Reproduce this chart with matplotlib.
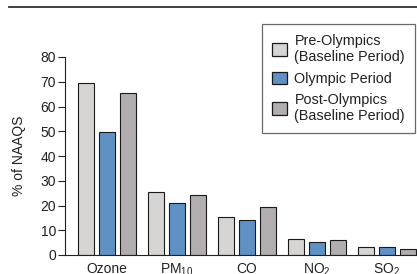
import numpy as np
import matplotlib
matplotlib.use("Agg")
import matplotlib.pyplot as plt
from matplotlib.patches import Patch
from matplotlib.lines import Line2D

plt.rcParams['font.family'] = ['Liberation Sans', 'DejaVu Sans']
plt.rcParams['mathtext.fontset'] = 'custom'
plt.rcParams['mathtext.rm'] = 'Liberation Sans'
plt.rcParams['mathtext.it'] = 'Liberation Sans'

# data
pollutants = ['Ozone', r'$\mathrm{PM_{10}}$', 'CO', r'$\mathrm{NO_2}$', r'$\mathrm{SO_2}$']
pre_olympics = [69.3, 25.3, 15.5, 6.5, 3.2]
olympic = [49.7, 21.1, 14.3, 5.3, 3.4]
post_olympics = [65.4, 24.3, 19.3, 6.0, 2.5]
series_labels = ['Pre-Olympics\n(Baseline Period)', 'Olympic Period',
                 'Post-Olympics\n(Baseline Period)']
colors = ['#d7d4d4', '#5f91c5', '#b2adae']
yticks = [0, 10, 20, 30, 40, 50, 60, 70, 80]

fig = plt.figure(figsize=(4.17, 2.74), dpi=100)
ax = fig.add_axes([65 / 417, 19 / 274, 352 / 417, 198 / 274])

x = np.arange(len(pollutants))
width = 0.229
step = 0.3
for i, (vals, col) in enumerate(zip([pre_olympics, olympic, post_olympics], colors)):
    ax.bar(x + (i - 1) * step, vals, width, color=col, edgecolor='#1a1a1a',
           linewidth=0.8, zorder=2)

ax.set_xlim(-0.6, 4.43)
ax.set_ylim(0, 80)
ax.set_yticks(yticks)
ax.set_xticks(x)
ax.set_xticklabels(pollutants)
ax.tick_params(axis='y', direction='out', length=5, width=0.8, pad=1.5,
               labelsize=10, colors='#222222')
ax.tick_params(axis='x', length=0, pad=5, labelsize=10, colors='#222222')
for s in ['top', 'right']:
    ax.spines[s].set_visible(False)
for s in ['left', 'bottom']:
    ax.spines[s].set_color('#222222')
    ax.spines[s].set_linewidth(0.8)
ax.set_ylabel('% of NAAQS', fontsize=10, color='#222222', labelpad=10)

handles = [Patch(facecolor=c, edgecolor='#1a1a1a', linewidth=0.9) for c in colors]
leg = ax.legend(handles, series_labels, loc='upper left',
                bbox_to_anchor=(262 / 417, 1 - 24 / 274), bbox_transform=fig.transFigure,
                borderaxespad=0, fontsize=10.4, frameon=True, fancybox=False,
                handlelength=1.0, handleheight=1.0, handletextpad=0.55,
                labelspacing=0.5, borderpad=0.7)
leg.get_frame().set_edgecolor('#444444')
leg.get_frame().set_linewidth(0.9)
for t in leg.get_texts():
    t.set_color('#222222')
    t.set_linespacing(1.2)

fig.add_artist(Line2D([9 / 417, 1.0], [1 - 7 / 274, 1 - 7 / 274],
                      transform=fig.transFigure, color='#333333', linewidth=1.3))

fig.savefig('out.png', dpi=100)
